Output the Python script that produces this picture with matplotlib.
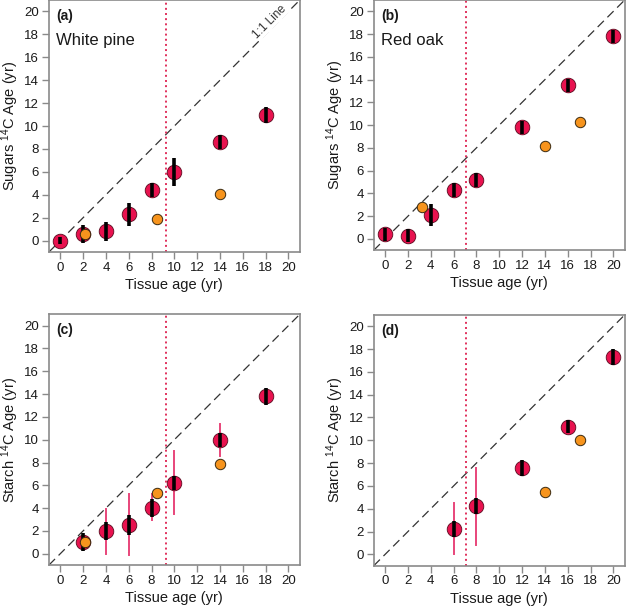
import matplotlib
matplotlib.use("Agg")
import matplotlib.pyplot as plt

plt.rcParams["font.family"] = ["Liberation Sans", "DejaVu Sans"]
plt.rcParams["mathtext.fontset"] = "custom"
plt.rcParams["mathtext.rm"] = "Liberation Sans"
plt.rcParams["mathtext.it"] = "Liberation Sans:italic"
plt.rcParams["mathtext.bf"] = "Liberation Sans:bold"

# (a) white pine, sugars
a_x = [0, 2, 4, 6, 8, 10, 14, 18]
a_y = [0.0, 0.6, 0.8, 2.3, 4.4, 6.0, 8.6, 11.0]
a_err = [0.3, 0.8, 0.8, 1.0, 0.6, 1.2, 0.6, 0.7]
a_ox = [2.2, 8.5, 14.0]
a_oy = [0.6, 1.9, 4.1]

# (b) red oak, sugars
b_x = [0, 2, 4, 6, 8, 12, 16, 20]
b_y = [0.4, 0.3, 2.1, 4.3, 5.2, 9.8, 13.5, 17.8]
b_err = [0.6, 0.6, 1.0, 0.6, 0.6, 0.6, 0.6, 0.6]
b_ox = [3.2, 14.0, 17.1]
b_oy = [2.8, 8.2, 10.3]

# (c) white pine, starch
c_x = [2, 4, 6, 8, 10, 14, 18]
c_y = [1.0, 2.0, 2.5, 4.0, 6.2, 10.0, 13.8]
c_err = [0.8, 0.8, 0.9, 0.8, 0.6, 0.6, 0.75]
c_lo = [None, 0.0, -0.1, 3.0, 3.5, 8.6, None]
c_hi = [None, 3.9, 5.2, 5.2, 9.0, 11.4, None]
c_ox = [2.2, 8.5, 14.0]
c_oy = [1.0, 5.3, 7.9]

# (d) red oak, starch
d_x = [6, 8, 12, 16, 20]
d_y = [2.2, 4.2, 7.6, 11.2, 17.3]
d_err = [0.7, 0.7, 0.7, 0.6, 0.7]
d_lo = [0.0, 0.8, None, None, None]
d_hi = [4.5, 7.6, None, None, None]
d_ox = [14.0, 17.1]
d_oy = [5.5, 10.0]

cutoffs = [9.3, 7.1, 9.3, 7.1]
labels = ["(a)", "(b)", "(c)", "(d)"]
species = ["White pine", "Red oak", None, None]
ylabels = ["Sugars $^{14}$C Age (yr)", "Sugars $^{14}$C Age (yr)",
           "Starch $^{14}$C Age (yr)", "Starch $^{14}$C Age (yr)"]

RED = "#e8124f"
ORANGE = "#f7941d"
PINK = "#e8457a"
GRAY = "#8a8a8a"
TXT = "#1a1a1a"

panels = [
    (a_x, a_y, a_err, None, None, a_ox, a_oy),
    (b_x, b_y, b_err, None, None, b_ox, b_oy),
    (c_x, c_y, c_err, c_lo, c_hi, c_ox, c_oy),
    (d_x, d_y, d_err, d_lo, d_hi, d_ox, d_oy),
]
positions = [
    [0.078, 0.586, 0.401, 0.414],
    [0.597, 0.589, 0.401, 0.411],
    [0.078, 0.072, 0.401, 0.412],
    [0.597, 0.071, 0.401, 0.412],
]

fig = plt.figure(figsize=(6.26, 6.09), dpi=100)

for i, (xs, ys, err, lo, hi, ox, oy) in enumerate(panels):
    ax = fig.add_axes(positions[i])
    ax.plot([-1, 21], [-1, 21], ls=(0, (7, 4)), color="#333333", lw=0.9, zorder=1)
    ax.axvline(cutoffs[i], ls=":", color="#e0305c", lw=1.4, zorder=1)

    # thin pink range bars behind the circles
    if lo is not None:
        for x, l, h in zip(xs, lo, hi):
            if l is not None:
                ax.plot([x, x], [l, h], color=PINK, lw=1.4, zorder=2)

    ax.plot(xs, ys, "o", ms=10.5, mfc=RED, mec="#5a0a1e", mew=0.6, zorder=3)
    for x, y, e in zip(xs, ys, err):
        ax.plot([x, x], [y - e, y + e], color="black", lw=2.6,
                solid_capstyle="butt", zorder=4)
    ax.plot(ox, oy, "o", ms=7.5, mfc=ORANGE, mec="#3a2a10", mew=0.7, zorder=5)

    ax.set_xlim(-1, 21)
    ax.set_ylim(-1, 21)
    ax.set_xticks(range(0, 21, 2))
    ax.set_yticks(range(0, 21, 2))
    for s in ax.spines.values():
        s.set_color(GRAY)
        s.set_linewidth(1.2)
    ax.tick_params(colors=TXT, labelsize=9.5, length=5, width=1,
                   color=GRAY, pad=2)
    ax.set_xlabel("Tissue age (yr)", fontsize=10.5, color=TXT, labelpad=3)
    ax.set_ylabel(ylabels[i], fontsize=10.5, color=TXT)
    ax.yaxis.set_label_coords(-0.11, 0.5)

    ax.text(0.03, 0.965, labels[i], transform=ax.transAxes, fontsize=10,
            fontweight="bold", va="top", ha="left", color=TXT)
    if species[i]:
        ax.text(0.03, 0.87, species[i], transform=ax.transAxes, fontsize=12,
                va="top", ha="left", color=TXT)
    if i == 0:
        ax.text(18.4, 19.1, "1:1 Line", rotation=45, fontsize=8.5,
                ha="center", va="center", color="#333333",
                bbox=dict(facecolor="white", edgecolor="none", pad=0.5))

fig.savefig("out.png", dpi=100)
